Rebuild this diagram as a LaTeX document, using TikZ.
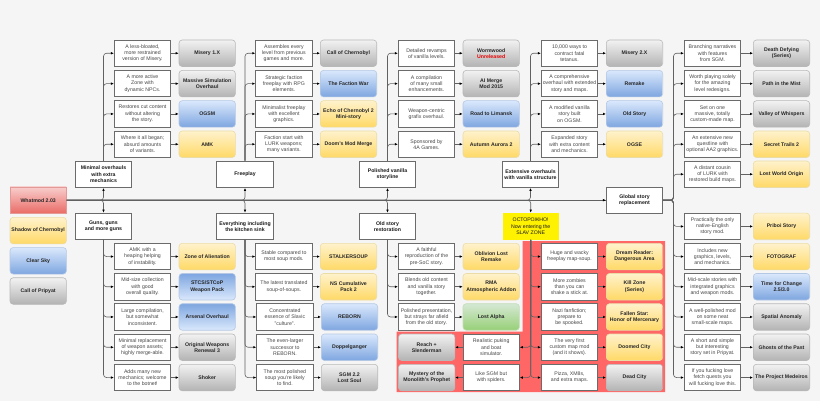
\documentclass[tikz,border=0pt]{standalone}
\usepackage{fontspec}
\setmainfont{Liberation Sans}
\usetikzlibrary{arrows.meta}
\definecolor{bgc}{HTML}{F5F5F5}
\definecolor{zonered}{HTML}{FF6666}
\definecolor{goldtop}{HTML}{FFF2CC}\definecolor{goldbot}{HTML}{FFD966}\definecolor{goldln}{HTML}{EBDCA6}
\definecolor{bluetop}{HTML}{DAE8FC}\definecolor{bluebot}{HTML}{7EA6E0}\definecolor{blueln}{HTML}{B4C8E4}
\definecolor{graytop}{HTML}{F2F2F2}\definecolor{graybot}{HTML}{B3B3B3}\definecolor{grayln}{HTML}{B8B8B8}
\definecolor{greentop}{HTML}{D5E8D4}\definecolor{greenbot}{HTML}{97D077}\definecolor{greenln}{HTML}{C4DDB8}
\definecolor{redtop}{HTML}{F8CECC}\definecolor{redbot}{HTML}{EA6B66}\definecolor{redln}{HTML}{E39A97}
\tikzset{
  base/.style={inner sep=0pt,align=center,minimum width=56.4pt,minimum height=26.5pt,line width=0.8pt,
    font=\fontsize{5.2}{6.2}\selectfont},
  desc/.style={base,draw=black!58,fill=white,text=black!72},
  catbox/.style={base,draw=black!58,fill=white,text=black!90,font=\fontsize{5.2}{6.2}\selectfont\bfseries},
  modbox/.style={base,rounded corners=3.2pt,line width=0.6pt,text=black!85,font=\fontsize{5.2}{6.2}\selectfont\bfseries},
  mgold/.style={modbox,top color=goldtop,bottom color=goldbot,draw=goldln},
  mblue/.style={modbox,top color=bluetop,bottom color=bluebot,draw=blueln},
  mblueinv/.style={modbox,top color=bluebot,bottom color=bluetop,draw=blueln},
  mgray/.style={modbox,top color=graytop,bottom color=graybot,draw=grayln},
  mgreen/.style={modbox,top color=greentop,bottom color=greenbot,draw=greenln},
  mred/.style={modbox,top color=redtop,bottom color=redbot,draw=redln,rounded corners=0pt},
  warn/.style={base,draw=none,fill=yellow,text=black!90},
  conn/.style={draw=black!62,line width=0.6pt,rounded corners=3pt,-{Latex[length=3pt,width=2.6pt,black]}},
  trunk/.style={draw=black!62,line width=0.6pt}
}
% #1 id, #2 source point of the connector, #3 desc left x, #4 mod left x, #5 top y, #6 desc text, #7 mod style, #8 mod text
\newcommand{\rowR}[8]{%
  \node[desc] (d#1) at ({#3+28.2},{#5+13.25}) {#6};
  \node[#7] (m#1) at ({#4+28.2},{#5+13.25}) {#8};
  \draw[conn] (d#1.east) -- (m#1.west);
  \draw[conn] #2 |- (d#1.west);
}
\newcommand{\rowL}[8]{%
  \node[desc] (d#1) at ({#3+28.2},{#5+13.25}) {#6};
  \node[#7] (m#1) at ({#4+28.2},{#5+13.25}) {#8};
  \draw[conn] (d#1.west) -- (m#1.east);
  \draw[conn] #2 |- (d#1.east);
}
\begin{document}
\begin{tikzpicture}[x=1pt,y=-1pt]
\useasboundingbox (0,0) rectangle (820,401);
\fill[bgc] (0,0) rectangle (820,401);
% the slav zone
\fill[zonered] (522.7,241) -- (665,241) -- (665,392) -- (396.7,392) -- (396.7,331.7) -- (522.7,331.7) -- cycle;

% roots and legend
\node[mred] (root) at (38.2,200.2) {Whatmod 2.03};
\node[mgold] (lsoc) at (38.2,230.6) {Shadow of Chernobyl};
\node[mblue] (lcs) at (38.2,260.8) {Clear Sky};
\node[mgray] (lcop) at (38.2,291) {Call of Pripyat};

% categories
\node[catbox] (minimal) at (103.5,174.3) {Minimal overhauls\\with extra\\mechanics};
\node[catbox] (guns) at (103.5,226.3) {Guns, guns\\and more guns};
\node[catbox] (free) at (245,174.3) {Freeplay};
\node[catbox] (kitchen) at (245,226.3) {Everything including\\the kitchen sink};
\node[catbox] (polished) at (387.5,174.3) {Polished vanilla\\storyline};
\node[catbox] (oldres) at (387.5,226.3) {Old story\\restoration};
\node[catbox] (extensive) at (530.5,174.3) {Extensive overhauls\\with vanilla structure};
\node[warn] (octo) at (530.7,226.3) {ОСТОРОЖНО!\\Now entering the\\SLAV ZONE};
\node[catbox] (global) at (634.5,200.2) {Global story\\replacement};
\coordinate (gjunc) at (673.5,200.2);

% main line
\draw[trunk] (root.east) -- (global.west);
\draw[conn] (root.east) -| (minimal.south);
\draw[conn] (root.east) -| (guns.north);
\draw[conn] (root.east) -| (free.south);
\draw[conn] (root.east) -| (kitchen.north);
\draw[conn] (root.east) -| (polished.south);
\draw[conn] (root.east) -| (oldres.north);
\draw[conn] (root.east) -| (extensive.south);
\draw[conn] (root.east) -| (octo.north);
\draw[conn] (root.east) -- (global.west);

% column A
\rowR{a1}{(minimal.north)}{114.3}{179}{40}{A less-bloated,\\more restrained\\version of Misery.}{mgray}{Misery 1.X}
\rowR{a2}{(minimal.north)}{114.3}{179}{70.4}{A more active\\Zone with\\dynamic NPCs.}{mgray}{Massive Simulation\\Overhaul}
\rowR{a3}{(minimal.north)}{114.3}{179}{100.7}{Restores cut content\\without altering\\the story.}{mblue}{OGSM}
\rowR{a4}{(minimal.north)}{114.3}{179}{131}{Where it all began;\\absurd amounts\\of variants.}{mgold}{AMK}
\rowR{a5}{(guns.south)}{114.3}{179}{243.3}{AMK with a\\heaping helping\\of instability.}{mgold}{Zone of Alienation}
\rowR{a6}{(guns.south)}{114.3}{179}{273.5}{Mid-size collection\\with good\\overall quality.}{mblueinv}{STCS/STCoP\\Weapon Pack}
\rowR{a7}{(guns.south)}{114.3}{179}{303.7}{Large compilation,\\but somewhat\\inconsistent.}{mblueinv}{Arsenal Overhaul}
\rowR{a8}{(guns.south)}{114.3}{179}{334}{Minimal replacement\\of weapon assets;\\highly merge-able.}{mgray}{Original Weapons\\Renewal 3}
\rowR{a9}{(guns.south)}{114.3}{179}{364.3}{Adds many new\\mechanics; welcome\\to the botnet!}{mgray}{Shoker}

% column B
\rowR{b1}{(free.north)}{255.7}{320.3}{40}{Assembles every\\level from previous\\games and more.}{mgray}{Call of Chernobyl}
\rowR{b2}{(free.north)}{255.7}{320.3}{70.4}{Strategic faction\\freeplay with RPG\\elements.}{mblue}{The Faction War}
\rowR{b3}{(free.north)}{255.7}{320.3}{100.7}{Minimalist freeplay\\with excellent\\graphics.}{mgold}{Echo of Chernobyl 2\\Mini-story}
\rowR{b4}{(free.north)}{255.7}{320.3}{131}{Faction start with\\LURK weapons;\\many variants.}{mgold}{Doom's Mod Merge}
\rowR{b5}{(kitchen.south)}{255.7}{320.3}{243.3}{Stable compared to\\most soup mods.}{mgold}{STALKERSOUP}
\rowR{b6}{(kitchen.south)}{255.7}{320.3}{273.5}{The latest translated\\soup-of-soups.}{mgold}{NS Cumulative\\Pack 2}
\rowR{b7}{(kitchen.south)}{256.7}{321.3}{303.7}{Concentrated\\essence of Slavic\\"culture".}{mblue}{REBORN}
\rowR{b8}{(kitchen.south)}{256.7}{321.3}{334}{The even-larger\\successor to\\REBORN.}{mblue}{Doppelganger}
\rowR{b9}{(kitchen.south)}{256.7}{321.3}{364.3}{The most polished\\soup you're likely\\to find.}{mgray}{SGM 2.2\\Lost Soul}

% column C
\rowR{c1}{(polished.north)}{398.3}{463}{40}{Detailed revamps\\of vanilla levels.}{mgray}{Wormwood\\\textcolor{red!90!black}{Unreleased}}
\rowR{c2}{(polished.north)}{398.3}{463}{70.4}{A compilation\\of many small\\enhancements.}{mgray}{AI Merge\\Mod 2015}
\rowR{c3}{(polished.north)}{398.3}{463}{100.7}{Weapon-centric\\grafix overhaul.}{mblue}{Road to Limansk}
\rowR{c4}{(polished.north)}{398.3}{463}{131}{Sponsored by\\4A Games.}{mgold}{Autumn Aurora 2}
\rowR{c5}{(oldres.south)}{398.3}{463}{243.3}{A faithful\\reproduction of the\\pre-SoC story.}{mgold}{Oblivion Lost\\Remake}
\rowR{c6}{(oldres.south)}{398.3}{463}{273.5}{Blends old content\\and vanilla story\\together.}{mgold}{RMA\\Atmospheric Addon}
\rowR{c7}{(oldres.south)}{398.3}{463}{303.7}{Polished presentation,\\but strays far afield\\from the old story.}{mgreen}{Lost Alpha}

% column D
\rowR{e1}{(extensive.north)}{541.3}{606.3}{40}{10,000 ways to\\contract fatal\\tetanus.}{mgray}{Misery 2.X}
\rowR{e2}{(extensive.north)}{541.3}{606.3}{70.4}{A comprehensive\\overhaul with extended\\story and maps.}{mblue}{Remake}
\rowR{e3}{(extensive.north)}{541.3}{606.3}{100.7}{A modified vanilla\\story built\\on OGSM.}{mblue}{Old Story}
\rowR{e4}{(extensive.north)}{541.3}{606.3}{131}{Expanded story\\with extra content\\and mechanics.}{mgold}{OGSE}
\rowR{e5}{(octo.south)}{541.3}{606.3}{243.3}{Huge and wacky\\freeplay map-soup.}{mgold}{Dream Reader:\\Dangerous Area}
\rowR{e6}{(octo.south)}{541.3}{606.3}{273.5}{More zombies\\than you can\\shake a stick at.}{mgold}{Kill Zone\\(Series)}
\rowR{e7}{(octo.south)}{541.3}{606.3}{303.7}{Nazi fanfiction;\\prepare to\\be spooked.}{mgold}{Fallen Star:\\Honor of Mercenary}
\rowR{e8}{(octo.south)}{541.3}{606.3}{334}{The very first\\custom map mod\\(and it shows).}{mgold}{Doomed City}
\rowR{e9}{(octo.south)}{541.3}{606.3}{364.3}{Pizza, XM8s,\\and extra maps.}{mgray}{Dead City}
\rowL{l1}{(octo.south)}{463}{398.5}{334}{Realistic puking\\and boat\\simulator.}{mgray}{Reach +\\Slenderman}
\rowL{l2}{(octo.south)}{463}{398.5}{364.3}{Like SGM but\\with spiders.}{mgray}{Mystery of the\\Monolith's Prophet}

% column E
\rowR{g1}{(global.east) -- (gjunc)}{684.3}{753.3}{40}{Branching narratives\\with features\\from SGM.}{mgray}{Death Defying\\(Series)}
\rowR{g2}{(global.east) -- (gjunc)}{684.3}{753.3}{70.4}{Worth playing solely\\for the amazing\\level redesigns.}{mgray}{Path in the Mist}
\rowR{g3}{(global.east) -- (gjunc)}{684.3}{753.3}{100.7}{Set on one\\massive, totally\\custom-made map.}{mgray}{Valley of Whispers}
\rowR{g4}{(global.east) -- (gjunc)}{684.3}{753.3}{131}{An extensive new\\questline with\\optional AA2 graphics.}{mgold}{Secret Trails 2}
\rowR{g5}{(global.east) -- (gjunc)}{684.3}{753.3}{161}{A distant cousin\\of LURK with\\restored build maps.}{mgold}{Lost World Origin}
\rowR{g6}{(global.east) -- (gjunc)}{684.3}{753.3}{213.2}{Practically the only\\native-English\\story mod.}{mgold}{Priboi Story}
\rowR{g7}{(global.east) -- (gjunc)}{684.3}{753.3}{243.3}{Includes new\\graphics, levels,\\and mechanics.}{mgold}{FOTOGRAF}
\rowR{g8}{(global.east) -- (gjunc)}{684.3}{753.3}{273.5}{Mid-scale stories with\\integrated graphics\\and weapon mods.}{mblue}{Time for Change\\2.5/3.0}
\rowR{g9}{(global.east) -- (gjunc)}{684.3}{753.3}{303.7}{A well-polished mod\\on some neat\\small-scale maps.}{mgray}{Spatial Anomaly}
\rowR{g10}{(global.east) -- (gjunc)}{684.3}{753.3}{334}{A short and simple\\but interesting\\story set in Pripyat.}{mgray}{Ghosts of the Past}
\rowR{g11}{(global.east) -- (gjunc)}{684.3}{753.3}{364.3}{If you fucking love\\fetch quests you\\will fucking love this.}{mgray}{The Project Medeiros}
\end{tikzpicture}
\end{document}
